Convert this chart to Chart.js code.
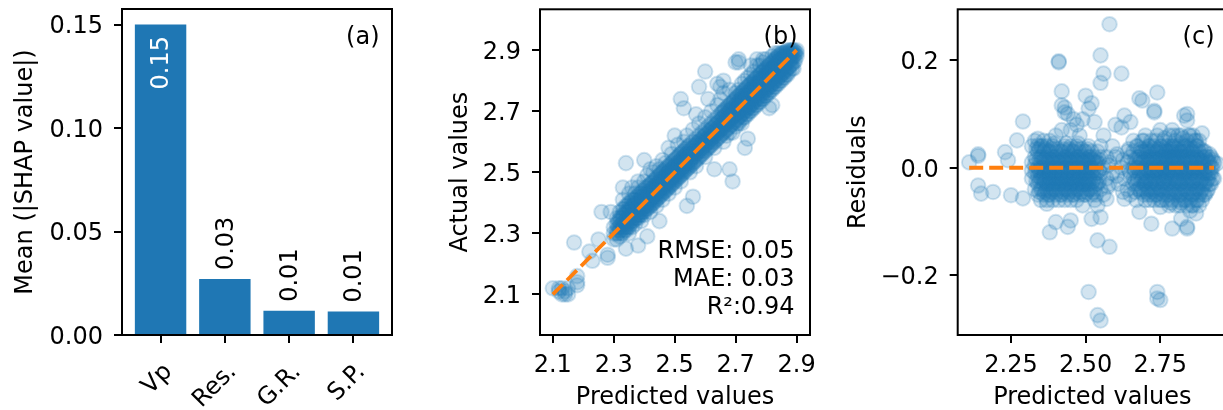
<!DOCTYPE html>
<html lang="en">
<head>
<meta charset="UTF-8" />
<title>SHAP importance and model fit</title>
<script src="https://cdn.jsdelivr.net/npm/chart.js"></script>
<style>
  html, body { margin: 0; padding: 0; background: #fff; }
  body { width: 1223px; height: 410px; overflow: hidden; position: relative; }
  canvas { position: absolute; top: 0; }
  #shapChart { left: 0; }
  #fitChart { left: 410px; }
  #residChart { left: 820px; }
</style>
</head>
<body>
<canvas id="shapChart" width="400" height="410"></canvas>
<canvas id="fitChart" width="410" height="410"></canvas>
<canvas id="residChart" width="423" height="410"></canvas>
<script>
// (a) mean |SHAP| per feature
const features = ['Vp', 'Res.', 'G.R.', 'S.P.'];
const meanShap = [0.150, 0.027, 0.0117, 0.0113];
const shapLabels = ['0.15', '0.03', '0.01', '0.01'];
const shapInside = [true, false, false, false];
const shapTicks = [0, 0.05, 0.10, 0.15];

// (b) predicted vs actual, rows of [predicted, [actual, ...]]
const fitRows = [
  [2.10, [2.12]], [2.12, [2.11, 2.12]], [2.13, [2.10, 2.12]], [2.14, [2.10, 2.11]],
  [2.15, [2.10, 2.12]], [2.17, [2.27]], [2.18, [2.13, 2.16, 2.14]], [2.22, [2.24]],
  [2.23, [2.21]], [2.25, [2.28]], [2.26, [2.37]], [2.28, [2.23, 2.22]], [2.29, [2.37]],
  [2.30, [2.30, 2.32, 2.28]],
  [2.31, [2.30, 2.33, 2.35, 2.31, 2.28]],
  [2.32, [2.29, 2.31, 2.34, 2.37, 2.32, 2.35]],
  [2.33, [2.30, 2.32, 2.35, 2.38, 2.41, 2.45, 2.33, 2.36]],
  [2.34, [2.31, 2.33, 2.36, 2.34, 2.39, 2.25, 2.53, 2.32, 2.37]],
  [2.35, [2.32, 2.35, 2.37, 2.40, 2.30, 2.43, 2.34, 2.38]],
  [2.36, [2.34, 2.36, 2.39, 2.41, 2.32, 2.45, 2.35, 2.38]],
  [2.37, [2.33, 2.36, 2.38, 2.40, 2.43, 2.35, 2.37, 2.41]],
  [2.38, [2.35, 2.37, 2.39, 2.42, 2.45, 2.26, 2.47, 2.36, 2.40]],
  [2.39, [2.36, 2.38, 2.41, 2.43, 2.40, 2.34, 2.37, 2.42]],
  [2.40, [2.37, 2.39, 2.42, 2.44, 2.47, 2.36, 2.54, 2.40, 2.41]],
  [2.41, [2.38, 2.40, 2.43, 2.45, 2.29, 2.49, 2.39, 2.42]],
  [2.42, [2.39, 2.41, 2.44, 2.46, 2.43, 2.37, 2.51, 2.40]],
  [2.43, [2.40, 2.42, 2.45, 2.47, 2.44, 2.50, 2.41, 2.43]],
  [2.44, [2.41, 2.43, 2.46, 2.48, 2.45, 2.39, 2.52, 2.42]],
  [2.45, [2.42, 2.44, 2.47, 2.49, 2.34, 2.51, 2.43, 2.46]],
  [2.46, [2.43, 2.45, 2.48, 2.50, 2.47, 2.41, 2.54, 2.44]],
  [2.47, [2.44, 2.46, 2.49, 2.51, 2.48, 2.53, 2.45, 2.47]],
  [2.48, [2.45, 2.47, 2.50, 2.52, 2.49, 2.43, 2.58, 2.46]],
  [2.49, [2.46, 2.48, 2.51, 2.53, 2.50, 2.56, 2.47, 2.49]],
  [2.50, [2.47, 2.49, 2.52, 2.54, 2.51, 2.45, 2.62, 2.48]],
  [2.51, [2.48, 2.50, 2.53, 2.55, 2.52, 2.59, 2.49, 2.51]],
  [2.52, [2.49, 2.51, 2.54, 2.56, 2.53, 2.47, 2.74, 2.50]],
  [2.53, [2.50, 2.52, 2.55, 2.57, 2.54, 2.71, 2.60, 2.51]],
  [2.54, [2.51, 2.53, 2.56, 2.58, 2.39, 2.62, 2.52, 2.55]],
  [2.55, [2.52, 2.54, 2.57, 2.59, 2.56, 2.50, 2.53]],
  [2.56, [2.53, 2.55, 2.58, 2.60, 2.42, 2.64, 2.56]],
  [2.57, [2.54, 2.56, 2.59, 2.61, 2.52, 2.69, 2.57]],
  [2.58, [2.55, 2.57, 2.60, 2.62, 2.59, 2.66, 2.78]],
  [2.59, [2.56, 2.58, 2.61, 2.63, 2.60, 2.57]],
  [2.60, [2.57, 2.59, 2.62, 2.64, 2.55, 2.68, 2.83, 2.60]],
  [2.61, [2.58, 2.60, 2.63, 2.65, 2.74, 2.61]],
  [2.62, [2.59, 2.61, 2.64, 2.66, 2.63, 2.70, 2.60]],
  [2.63, [2.60, 2.62, 2.65, 2.51, 2.58, 2.67, 2.63]],
  [2.64, [2.61, 2.63, 2.66, 2.68, 2.79, 2.72, 2.64]],
  [2.65, [2.62, 2.64, 2.67, 2.69, 2.74, 2.78, 2.65]],
  [2.66, [2.63, 2.65, 2.68, 2.70, 2.60, 2.76, 2.80, 2.66]],
  [2.67, [2.64, 2.66, 2.69, 2.71, 2.68, 2.62, 2.67]],
  [2.68, [2.65, 2.67, 2.70, 2.72, 2.51, 2.77, 2.68, 2.63]],
  [2.69, [2.66, 2.68, 2.71, 2.73, 2.47, 2.63, 2.72, 2.69]],
  [2.70, [2.67, 2.69, 2.72, 2.74, 2.71, 2.86, 2.65, 2.70, 2.76]],
  [2.71, [2.68, 2.70, 2.73, 2.75, 2.72, 2.87, 2.86, 2.66, 2.77]],
  [2.72, [2.69, 2.71, 2.74, 2.76, 2.73, 2.79, 2.66, 2.70, 2.75]],
  [2.73, [2.70, 2.72, 2.75, 2.77, 2.58, 2.80, 2.68, 2.73, 2.74, 2.71]],
  [2.74, [2.71, 2.73, 2.76, 2.78, 2.61, 2.81, 2.69, 2.74, 2.75, 2.72]],
  [2.75, [2.72, 2.74, 2.77, 2.79, 2.76, 2.82, 2.70, 2.85, 2.75, 2.73]],
  [2.76, [2.73, 2.75, 2.78, 2.80, 2.77, 2.83, 2.71, 2.76, 2.79, 2.74]],
  [2.77, [2.74, 2.76, 2.79, 2.81, 2.78, 2.87, 2.72, 2.85, 2.77, 2.75]],
  [2.78, [2.75, 2.77, 2.80, 2.82, 2.79, 2.85, 2.73, 2.78, 2.81, 2.76]],
  [2.79, [2.76, 2.78, 2.81, 2.83, 2.80, 2.86, 2.74, 2.87, 2.79, 2.77]],
  [2.80, [2.77, 2.79, 2.82, 2.84, 2.81, 2.87, 2.75, 2.80, 2.83, 2.78]],
  [2.81, [2.78, 2.80, 2.83, 2.85, 2.82, 2.71, 2.76, 2.81, 2.84, 2.79]],
  [2.82, [2.79, 2.81, 2.84, 2.86, 2.83, 2.88, 2.72, 2.77, 2.82, 2.80]],
  [2.83, [2.80, 2.82, 2.85, 2.87, 2.84, 2.89, 2.78, 2.83, 2.86, 2.81]],
  [2.84, [2.81, 2.83, 2.86, 2.88, 2.85, 2.89, 2.79, 2.84, 2.87, 2.82]],
  [2.85, [2.82, 2.84, 2.87, 2.89, 2.86, 2.80, 2.85, 2.88, 2.83]],
  [2.86, [2.83, 2.85, 2.88, 2.89, 2.87, 2.81, 2.86, 2.84]],
  [2.87, [2.84, 2.86, 2.89, 2.90, 2.88, 2.87, 2.82]],
  [2.88, [2.85, 2.87, 2.89, 2.90, 2.86, 2.88]],
  [2.89, [2.86, 2.88, 2.90, 2.84, 2.89]],
  [2.90, [2.88, 2.90, 2.89]],
  [2.315, [2.30, 2.32, 2.34]],
  [2.325, [2.31, 2.33, 2.35, 2.30]],
  [2.335, [2.32, 2.34, 2.36, 2.31, 2.38]],
  [2.345, [2.33, 2.35, 2.37, 2.32, 2.39]],
  [2.355, [2.34, 2.36, 2.38, 2.33, 2.40]],
  [2.365, [2.35, 2.37, 2.39, 2.34, 2.41]],
  [2.375, [2.36, 2.38, 2.40, 2.35, 2.42]],
  [2.385, [2.37, 2.39, 2.41, 2.36, 2.43]],
  [2.395, [2.38, 2.40, 2.42, 2.37, 2.44]],
  [2.405, [2.39, 2.41, 2.43, 2.38, 2.45]],
  [2.415, [2.385, 2.405, 2.42, 2.435, 2.455]],
  [2.425, [2.395, 2.415, 2.43, 2.445, 2.465]],
  [2.435, [2.405, 2.425, 2.44, 2.455, 2.475]],
  [2.445, [2.415, 2.435, 2.45, 2.465, 2.485]],
  [2.455, [2.425, 2.445, 2.46, 2.475, 2.495]],
  [2.465, [2.435, 2.455, 2.47, 2.485, 2.505]],
  [2.475, [2.445, 2.465, 2.48, 2.495, 2.515]],
  [2.485, [2.455, 2.475, 2.49, 2.505, 2.525]],
  [2.495, [2.465, 2.485, 2.50, 2.515, 2.535]],
  [2.505, [2.475, 2.495, 2.51, 2.525, 2.545]],
  [2.515, [2.485, 2.505, 2.52, 2.535, 2.555]],
  [2.525, [2.495, 2.515, 2.53, 2.545, 2.565]],
  [2.535, [2.505, 2.525, 2.54, 2.555, 2.575]],
  [2.545, [2.515, 2.535, 2.55, 2.565, 2.585]],
  [2.555, [2.525, 2.545, 2.56, 2.575]],
  [2.565, [2.535, 2.555, 2.57, 2.585]],
  [2.575, [2.545, 2.565, 2.58, 2.595]],
  [2.585, [2.555, 2.575, 2.59, 2.605]],
  [2.595, [2.565, 2.585, 2.60, 2.615]],
  [2.605, [2.575, 2.595, 2.61, 2.625]],
  [2.615, [2.585, 2.605, 2.62, 2.635]],
  [2.625, [2.595, 2.615, 2.63, 2.645]],
  [2.635, [2.605, 2.625, 2.64, 2.655]],
  [2.645, [2.615, 2.635, 2.65, 2.665]],
  [2.655, [2.625, 2.645, 2.66, 2.675, 2.695]],
  [2.665, [2.635, 2.655, 2.67, 2.685, 2.705]],
  [2.675, [2.645, 2.665, 2.68, 2.695, 2.715]],
  [2.685, [2.655, 2.675, 2.69, 2.705, 2.725]],
  [2.695, [2.665, 2.685, 2.70, 2.715, 2.735]],
  [2.705, [2.675, 2.695, 2.71, 2.725, 2.745, 2.66]],
  [2.715, [2.685, 2.705, 2.72, 2.735, 2.755, 2.67]],
  [2.725, [2.695, 2.715, 2.73, 2.745, 2.765, 2.68]],
  [2.735, [2.705, 2.725, 2.74, 2.755, 2.775, 2.69]],
  [2.745, [2.715, 2.735, 2.75, 2.765, 2.785, 2.70]],
  [2.755, [2.725, 2.745, 2.76, 2.775, 2.795, 2.71]],
  [2.765, [2.735, 2.755, 2.77, 2.785, 2.805, 2.72]],
  [2.775, [2.745, 2.765, 2.78, 2.795, 2.815, 2.73]],
  [2.785, [2.755, 2.775, 2.79, 2.805, 2.825, 2.74]],
  [2.795, [2.765, 2.785, 2.80, 2.815, 2.835, 2.75]],
  [2.805, [2.775, 2.795, 2.81, 2.825, 2.845, 2.76]],
  [2.815, [2.785, 2.805, 2.82, 2.835, 2.855, 2.77]],
  [2.825, [2.795, 2.815, 2.83, 2.845, 2.865, 2.78]],
  [2.835, [2.805, 2.825, 2.84, 2.855, 2.875, 2.79]],
  [2.845, [2.815, 2.835, 2.85, 2.865, 2.885, 2.80]],
  [2.855, [2.825, 2.845, 2.86, 2.875, 2.89, 2.81]],
  [2.865, [2.835, 2.855, 2.87, 2.885, 2.895, 2.82]],
  [2.875, [2.845, 2.865, 2.88, 2.895, 2.83]],
  [2.885, [2.855, 2.875, 2.89, 2.90, 2.84]],
  [2.895, [2.865, 2.885, 2.895]]
];
const fitTicks = [2.1, 2.3, 2.5, 2.7, 2.9];
const fitLine = [2.1, 2.9];
const fitStats = ['RMSE: 0.05', 'MAE: 0.03', 'R\u00b2:0.94'];

// (c) residuals, rows of [predicted, [residual, ...]]
const residRows = [
  [2.11, [0.01]], [2.14, [0.025, 0.022, -0.033]], [2.15, [-0.048]], [2.19, [-0.045]],
  [2.23, [0.029]], [2.24, [0.014]], [2.25, [-0.051]], [2.27, [0.051]], [2.29, [0.086, -0.057]],
  [2.32, [0.01, -0.02, 0.04, -0.005]],
  [2.33, [-0.01, 0.02, -0.04, 0.05, 0.005]],
  [2.34, [0.00, -0.03, 0.03, -0.05, 0.041, 0.054, -0.015]],
  [2.35, [-0.02, 0.01, 0.04, -0.04, -0.06, 0.02, 0.00, -0.01]],
  [2.36, [0.00, -0.01, 0.03, -0.03, -0.05, 0.05, 0.015, -0.02]],
  [2.37, [0.01, -0.02, 0.02, -0.04, -0.06, 0.04, -0.067, 0.00, -0.03]],
  [2.38, [-0.01, 0.00, 0.03, -0.03, -0.05, 0.05, -0.12, 0.015, -0.02]],
  [2.39, [0.02, -0.02, 0.01, -0.04, 0.04, -0.06, 0.00, -0.03]],
  [2.40, [0.00, -0.01, 0.03, -0.03, -0.05, 0.06, -0.101, 0.015, -0.02]],
  [2.41, [0.01, -0.02, 0.02, -0.04, -0.06, 0.198, 0.196, 0.00, -0.03]],
  [2.42, [-0.01, 0.00, 0.03, -0.03, -0.05, 0.142, 0.116, 0.07, 0.015, -0.02]],
  [2.43, [0.02, -0.02, 0.01, -0.04, 0.04, 0.112, 0.103, 0.00, -0.03, -0.06]],
  [2.44, [0.00, -0.01, 0.03, -0.03, -0.05, 0.10, -0.11, 0.015, -0.02]],
  [2.45, [0.01, -0.02, 0.02, -0.04, -0.06, 0.04, -0.098, 0.07, 0.00, -0.03]],
  [2.46, [-0.01, 0.00, 0.03, -0.03, -0.05, 0.09, 0.015, -0.02]],
  [2.47, [0.02, -0.02, 0.01, -0.04, 0.04, -0.06, 0.08, 0.00, -0.03]],
  [2.48, [0.00, -0.01, 0.03, -0.03, -0.05, 0.06, 0.015, -0.02]],
  [2.49, [0.01, -0.02, 0.02, -0.04, -0.07, 0.09, 0.00, -0.03]],
  [2.50, [-0.01, 0.00, 0.03, -0.03, -0.05, 0.134, 0.015, -0.02]],
  [2.51, [0.02, -0.02, 0.01, -0.04, 0.04, 0.11, -0.231, 0.00, -0.03]],
  [2.52, [0.00, -0.01, 0.03, -0.03, -0.05, 0.12, -0.095, 0.015]],
  [2.53, [0.01, -0.02, 0.02, -0.04, -0.06, 0.085, 0.00]],
  [2.54, [-0.01, 0.03, -0.03, -0.07, -0.135, -0.274, 0.01]],
  [2.55, [0.02, -0.04, 0.04, 0.209, 0.158, -0.092, -0.284, -0.01]],
  [2.56, [0.00, -0.05, 0.06, 0.175]],
  [2.57, [-0.02, 0.02, -0.058]],
  [2.58, [0.01, -0.03, 0.267, -0.147]],
  [2.59, [-0.01, 0.04]],
  [2.60, [0.02, 0.08]],
  [2.61, [-0.03]],
  [2.62, [0.00, 0.175, 0.075]],
  [2.63, [-0.02, 0.097, -0.058]],
  [2.64, [0.01, -0.04, 0.03]],
  [2.65, [-0.01, 0.02, 0.085, -0.05]],
  [2.66, [0.00, -0.02, 0.03, 0.05, -0.03]],
  [2.67, [0.01, -0.03, 0.04, -0.06, 0.00]],
  [2.68, [-0.01, 0.02, -0.04, 0.129, -0.082, 0.01]],
  [2.69, [0.01, -0.02, 0.05, 0.125, -0.04, 0.03]],
  [2.70, [0.00, -0.01, 0.03, -0.03, 0.06, -0.06, 0.015, -0.025]],
  [2.71, [0.01, -0.02, 0.04, -0.04, 0.02, -0.05, -0.005, 0.03]],
  [2.72, [-0.01, 0.00, 0.03, -0.03, 0.05, -0.05, -0.104, 0.015, -0.025]],
  [2.73, [0.02, -0.02, 0.01, -0.04, 0.04, -0.06, 0.106, 0.103, -0.005]],
  [2.74, [0.00, -0.01, 0.03, -0.03, 0.06, -0.05, 0.14, -0.231, -0.243, 0.015]],
  [2.75, [0.01, -0.02, 0.04, -0.04, 0.02, -0.06, 0.07, -0.073, -0.246, -0.005]],
  [2.76, [-0.01, 0.00, 0.03, -0.03, 0.05, -0.05, 0.01, 0.02, -0.025]],
  [2.77, [0.02, -0.02, 0.01, -0.04, 0.04, -0.06, 0.00, 0.03, -0.015]],
  [2.78, [0.00, -0.01, 0.03, -0.03, 0.06, -0.05, 0.02, -0.07, 0.04]],
  [2.79, [0.01, -0.02, 0.04, -0.04, 0.02, -0.06, 0.07, -0.113, -0.005, 0.03]],
  [2.80, [-0.01, 0.00, 0.03, -0.03, 0.05, -0.05, 0.01, -0.07, 0.02]],
  [2.81, [0.02, -0.02, 0.01, -0.04, 0.04, -0.06, 0.00, 0.06, -0.025]],
  [2.82, [0.00, -0.01, 0.03, -0.03, 0.06, -0.05, 0.02, -0.095, 0.045, -0.065]],
  [2.83, [0.01, -0.02, 0.04, -0.04, 0.02, -0.06, 0.097, -0.01, 0.03]],
  [2.84, [-0.01, 0.00, 0.03, -0.03, 0.05, -0.05, 0.088, 0.10, -0.113, -0.11, 0.02, -0.07]],
  [2.85, [0.02, -0.02, 0.01, -0.04, 0.04, -0.06, 0.00, -0.08, 0.06]],
  [2.86, [0.00, -0.01, 0.03, -0.03, 0.06, -0.05, 0.02, -0.07, -0.025]],
  [2.87, [0.01, -0.02, 0.04, -0.04, 0.02, -0.06, 0.05, -0.085, 0.00]],
  [2.88, [-0.01, 0.00, 0.03, -0.03, 0.05, -0.05, -0.07, 0.015]],
  [2.89, [0.02, -0.02, 0.01, -0.04, 0.064, -0.06, 0.00]],
  [2.90, [0.00, -0.01, 0.03, -0.03, -0.05, 0.02]],
  [2.91, [0.01, -0.02, 0.02, -0.04, -0.01]],
  [2.92, [-0.01, 0.02, -0.03, 0.00]],
  [2.93, [0.01, -0.02]],
  [2.94, [0.008]],
  [2.335, [-0.005, 0.015, -0.025, 0.035]],
  [2.345, [-0.045, -0.025, -0.005, 0.015, 0.035]],
  [2.355, [-0.04, -0.02, 0.00, 0.02, 0.04]],
  [2.365, [-0.045, -0.025, -0.005, 0.015, 0.035]],
  [2.375, [-0.05, -0.03, -0.01, 0.01, 0.03]],
  [2.385, [-0.045, -0.025, -0.005, 0.015, 0.035]],
  [2.395, [-0.04, -0.02, 0.00, 0.02, 0.045]],
  [2.405, [-0.045, -0.025, -0.005, 0.015, 0.035]],
  [2.415, [-0.05, -0.03, -0.01, 0.01, 0.03]],
  [2.425, [-0.045, -0.025, -0.005, 0.015, 0.035]],
  [2.435, [-0.04, -0.02, 0.00, 0.02, 0.045]],
  [2.445, [-0.045, -0.025, -0.005, 0.015, 0.035]],
  [2.455, [-0.05, -0.03, -0.01, 0.01, 0.03]],
  [2.465, [-0.045, -0.025, -0.005, 0.015, 0.035]],
  [2.475, [-0.04, -0.02, 0.00, 0.02, 0.045]],
  [2.485, [-0.045, -0.025, -0.005, 0.015, 0.035]],
  [2.495, [-0.05, -0.03, -0.01, 0.01, 0.03]],
  [2.505, [-0.045, -0.025, -0.005, 0.015, 0.035]],
  [2.515, [-0.04, -0.02, 0.00, 0.02]],
  [2.525, [-0.045, -0.025, -0.005, 0.015]],
  [2.535, [-0.05, -0.03, -0.01, 0.01]],
  [2.545, [-0.025, -0.005, 0.015]],
  [2.575, [0.005, -0.035]],
  [2.605, [-0.015, 0.025]],
  [2.625, [0.015, -0.045]],
  [2.645, [-0.005, 0.035]],
  [2.665, [-0.045, -0.025, -0.005, 0.015]],
  [2.675, [-0.04, -0.02, 0.00, 0.02, 0.04]],
  [2.685, [-0.045, -0.025, -0.005, 0.015, 0.035]],
  [2.695, [-0.05, -0.03, -0.01, 0.01, 0.03, 0.05]],
  [2.705, [-0.045, -0.025, -0.005, 0.015, 0.035]],
  [2.715, [-0.04, -0.02, 0.00, 0.02, 0.04, -0.06]],
  [2.725, [-0.045, -0.025, -0.005, 0.015, 0.035]],
  [2.735, [-0.05, -0.03, -0.01, 0.01, 0.03, 0.05]],
  [2.745, [-0.045, -0.025, -0.005, 0.015, 0.035]],
  [2.755, [-0.04, -0.02, 0.00, 0.02, 0.04, -0.06]],
  [2.765, [-0.045, -0.025, -0.005, 0.015, 0.035, 0.055]],
  [2.775, [-0.05, -0.03, -0.01, 0.01, 0.03]],
  [2.785, [-0.045, -0.025, -0.005, 0.015, 0.035, -0.065]],
  [2.795, [-0.04, -0.02, 0.00, 0.02, 0.04, 0.06]],
  [2.805, [-0.045, -0.025, -0.005, 0.015, 0.035]],
  [2.815, [-0.05, -0.03, -0.01, 0.01, 0.03, -0.07]],
  [2.825, [-0.045, -0.025, -0.005, 0.015, 0.035, 0.055]],
  [2.835, [-0.04, -0.02, 0.00, 0.02, 0.04, -0.06]],
  [2.845, [-0.045, -0.025, -0.005, 0.015, 0.035, 0.06]],
  [2.855, [-0.05, -0.03, -0.01, 0.01, 0.03, -0.07]],
  [2.865, [-0.045, -0.025, -0.005, 0.015, 0.035, 0.05]],
  [2.875, [-0.04, -0.02, 0.00, 0.02, 0.04, -0.06]],
  [2.885, [-0.045, -0.025, -0.005, 0.015, 0.035]],
  [2.895, [-0.05, -0.03, -0.01, 0.01, 0.03]],
  [2.905, [-0.045, -0.025, -0.005, 0.015]],
  [2.915, [-0.03, -0.01, 0.01, 0.025]],
  [2.925, [-0.02, 0.00, 0.015]]
];
const residXTicks = [2.25, 2.50, 2.75];
const residYTicks = [-0.2, 0, 0.2];
const residLine = [2.11, 2.93];

const FONT = { family: 'DejaVu Sans', size: 24 };
const BLUE = '#1f77b4';
const DOT = 'rgba(31,119,180,0.2)';
const ORANGE = '#ff7f0e';

const toPoints = rows => rows.flatMap(([x, ys]) => ys.map(y => ({ x, y })));
const minus = s => s.replace('-', '\u2212');

function makeAxis(o) {
  return {
    type: 'linear',
    min: o.min, max: o.max,
    bounds: 'data',
    offset: false,
    grid: { offset: false, drawOnChartArea: false, drawTicks: true, tickLength: 8, color: '#000', lineWidth: 2 },
    border: { display: false },
    ticks: {
      color: '#000', font: FONT, padding: o.pad, labelOffset: o.labelOffset || 0,
      autoSkip: false, maxRotation: o.rot || 0, minRotation: o.rot || 0,
      callback: o.format
    },
    title: o.title
      ? { display: true, text: o.title, color: '#000', font: FONT, padding: o.titlePad }
      : { display: false },
    afterBuildTicks: s => { s.ticks = o.ticks.map(v => ({ value: v })); },
    afterFit: s => {
      if (s.isHorizontal()) s.height = o.size; else s.width = o.size;
      // keep the plot box where it is; labels may overhang
      s.paddingTop = s.paddingBottom = s.paddingLeft = s.paddingRight = 0;
    }
  };
}

// axes frame drawn on top of the marks, like matplotlib spines
const frame = {
  id: 'frame',
  afterDatasetsDraw(chart) {
    const { ctx, chartArea: a } = chart;
    ctx.save();
    ctx.strokeStyle = '#000';
    ctx.lineWidth = 2;
    ctx.strokeRect(a.left, a.top, a.right - a.left, a.bottom - a.top);
    ctx.restore();
  }
};

// panel letter and optional stats text
const panelText = {
  id: 'panelText',
  afterDatasetsDraw(chart, args, opts) {
    const { ctx, chartArea: a } = chart;
    ctx.save();
    ctx.font = '24px "DejaVu Sans"';
    ctx.fillStyle = '#000';
    ctx.textAlign = 'right';
    ctx.textBaseline = 'alphabetic';
    ctx.fillText(opts.letter, a.right - 12.5, a.top + 35);
    (opts.lines || []).forEach((t, i, arr) => {
      ctx.fillText(t, a.right - 15.5, a.bottom - 21.3 - (arr.length - 1 - i) * 28);
    });
    ctx.restore();
  }
};

// value labels on the bars, rotated
const barNotes = {
  id: 'barNotes',
  afterDatasetsDraw(chart) {
    const { ctx } = chart;
    ctx.save();
    ctx.font = '24px "DejaVu Sans"';
    ctx.textBaseline = 'middle';
    chart.getDatasetMeta(0).data.forEach((bar, i) => {
      ctx.save();
      ctx.translate(bar.x + 1.5, bar.y);
      ctx.rotate(-Math.PI / 2);
      if (shapInside[i]) {
        ctx.fillStyle = '#fff';
        ctx.textAlign = 'right';
        ctx.fillText(shapLabels[i], -11.5, 0);
      } else {
        ctx.fillStyle = '#000';
        ctx.textAlign = 'left';
        ctx.fillText(shapLabels[i], 9, 0);
      }
      ctx.restore();
    });
    ctx.restore();
  }
};

const base = {
  responsive: false,
  animation: false,
  devicePixelRatio: 1,
  events: []
};

const dots = rows => ({
  data: toPoints(rows),
  pointRadius: 7.3, pointBorderWidth: 2,
  pointBackgroundColor: DOT, pointBorderColor: DOT, order: 1, clip: 0
});

new Chart(document.getElementById('shapChart'), {
  type: 'bar',
  data: {
    datasets: [{
      data: meanShap.map((v, i) => ({ x: i, y: v })),
      backgroundColor: BLUE,
      categoryPercentage: 1,
      barPercentage: 0.8
    }]
  },
  options: {
    ...base,
    layout: { padding: { top: 9, right: 8, left: 0, bottom: 0 } },
    plugins: { legend: { display: false }, tooltip: { enabled: false }, panelText: { letter: '(a)' } },
    scales: {
      x: makeAxis({ min: -0.6, max: 3.6, ticks: [0, 1, 2, 3], format: v => features[v],
        size: 75, pad: 15, rot: 45, labelOffset: 8 }),
      y: makeAxis({ min: 0, max: 0.1575, ticks: shapTicks, format: v => v.toFixed(2),
        size: 122, pad: 11, labelOffset: 2.5, title: 'Mean (|SHAP value|)', titlePad: { top: 11.2, bottom: 0 } })
    }
  },
  plugins: [frame, barNotes, panelText]
});

new Chart(document.getElementById('fitChart'), {
  type: 'scatter',
  data: {
    datasets: [
      {
        data: fitLine.map(v => ({ x: v, y: v })),
        showLine: true, pointRadius: 0, borderColor: ORANGE, borderWidth: 3.8,
        borderDash: [14, 6], order: 0, clip: 0
      },
      dots(fitRows)
    ]
  },
  options: {
    ...base,
    layout: { padding: { top: 9, right: 10, left: 0, bottom: 0 } },
    plugins: { legend: { display: false }, tooltip: { enabled: false },
      panelText: { letter: '(b)', lines: fitStats } },
    scales: {
      x: makeAxis({ min: 2.058, max: 2.944, ticks: fitTicks, format: v => v.toFixed(1),
        size: 75, pad: 8, title: 'Predicted values', titlePad: { top: 0, bottom: -2.4 } }),
      y: makeAxis({ min: 1.967, max: 3.034, ticks: fitTicks, format: v => v.toFixed(1),
        size: 130, pad: 11, labelOffset: 2.5, title: 'Actual values', titlePad: { top: 35.9, bottom: 0 } })
    }
  },
  plugins: [frame, panelText]
});

new Chart(document.getElementById('residChart'), {
  type: 'scatter',
  data: {
    datasets: [
      {
        data: residLine.map(v => ({ x: v, y: 0 })),
        showLine: true, pointRadius: 0, borderColor: ORANGE, borderWidth: 3.8,
        borderDash: [14, 6], order: 0, clip: 0
      },
      dots(residRows)
    ]
  },
  options: {
    ...base,
    layout: { padding: { top: 9, right: 16, left: 0, bottom: 0 } },
    plugins: { legend: { display: false }, tooltip: { enabled: false }, panelText: { letter: '(c)' } },
    scales: {
      x: makeAxis({ min: 2.0715, max: 2.9735, ticks: residXTicks, format: v => v.toFixed(2),
        size: 75, pad: 8, title: 'Predicted values', titlePad: { top: 0, bottom: -2.4 } }),
      y: makeAxis({ min: -0.311, max: 0.2947, ticks: residYTicks, format: v => minus(v.toFixed(1)),
        size: 137.7, pad: 11, labelOffset: 2.5, title: 'Residuals', titlePad: { top: 24.4, bottom: 0 } })
    }
  },
  plugins: [frame, panelText]
});
</script>
</body>
</html>
